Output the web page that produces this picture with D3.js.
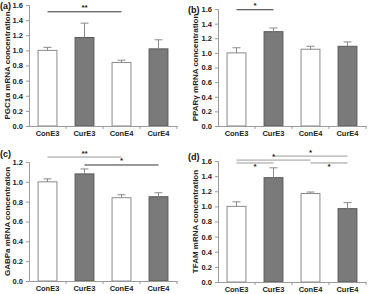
<!DOCTYPE html>
<html>
<head>
<meta charset="utf-8">
<script src="https://cdn.jsdelivr.net/npm/d3@7"></script>
<style>
  body { margin: 0; background: #fff; }
  svg { display: block; font-family: "Liberation Sans", Arial, sans-serif; }
</style>
</head>
<body>
<svg id="chart" width="372" height="294"></svg>
<script>
// groups, same for every panel
const groups = ["ConE3", "CurE3", "ConE4", "CurE4"];
const treated = [false, true, false, true];

// panel (a) PGC1a
const pgcMean = [1.00, 1.17, 0.84, 1.02];
const pgcTop = [1.04, 1.36, 0.87, 1.14];
// panel (b) PPARy
const pparMean = [1.00, 1.29, 1.05, 1.09];
const pparTop = [1.07, 1.34, 1.09, 1.15];
// panel (c) GABPa
const gabpMean = [1.00, 1.08, 0.84, 0.85];
const gabpTop = [1.03, 1.13, 0.87, 0.89];
// panel (d) TFAM
const tfamMean = [1.00, 1.38, 1.17, 0.97];
const tfamTop = [1.06, 1.51, 1.19, 1.05];

// significance brackets: [from, to, level, label, label above/below, grey?]
const pgcSig = [[0, 2, 1.51, "**", "above", false]];
const pparSig = [[0, 1, 1.59, "*", "above", false]];
const gabpSig = [[0, 2, 1.25, "**", "above", true], [1, 3, 1.17, "*", "above", false]];
const tfamSig = [
  [1, 3, 1.665, "*", "above", true],
  [0, 2, 1.612, "*", "above", true],
  [0, 1, 1.574, "*", "below", true],
  [2, 3, 1.574, "*", "below", true]
];

const yTicks12 = [0, 0.2, 0.4, 0.6, 0.8, 1.0, 1.2];
const yTicks16 = [0, 0.2, 0.4, 0.6, 0.8, 1.0, 1.2, 1.4, 1.6];

const panels = [
  { tag: "(a)", title: "PGC1α mRNA concentration", mean: pgcMean, top: pgcTop, sig: pgcSig,
    ticks: yTicks16, yMax: 1.6, left: 29, right: 177, top0: 5, bottom: 126, tagX: 0, tagY: 9 },
  { tag: "(b)", title: "PPARγ mRNA concentration", mean: pparMean, top: pparTop, sig: pparSig,
    ticks: yTicks16, yMax: 1.6, left: 218, right: 366, top0: 9, bottom: 126, tagX: 188, tagY: 13 },
  { tag: "(c)", title: "GABPa mRNA concentration", mean: gabpMean, top: gabpTop, sig: gabpSig,
    ticks: yTicks12, yMax: 1.2, left: 29, right: 177, top0: 162, bottom: 281, tagX: 0, tagY: 157 },
  { tag: "(d)", title: "TFAM mRNA concentration", mean: tfamMean, top: tfamTop, sig: tfamSig,
    ticks: yTicks16, yMax: 1.6, left: 218, right: 366, top0: 161, bottom: 282, tagX: 188, tagY: 160 }
];

const svg = d3.select("#chart");
const axisGrey = "#9a9a9a";

panels.forEach(p => {
  const g = svg.append("g");
  const x = d3.scaleBand().domain(groups).range([p.left, p.right]).paddingInner(0.49).paddingOuter(0.245);
  const y = d3.scaleLinear().domain([0, p.yMax]).range([p.bottom, p.top0]);
  const step = x.step();

  // bars
  g.selectAll("rect.bar")
    .data(groups)
    .join("rect")
    .attr("x", d => x(d))
    .attr("y", (d, i) => y(p.mean[i]))
    .attr("width", x.bandwidth())
    .attr("height", (d, i) => y(0) - y(p.mean[i]))
    .attr("fill", (d, i) => treated[i] ? "#7a7a7a" : "#fff")
    .attr("stroke", (d, i) => treated[i] ? "#5a5a5a" : "#8a8a8a")
    .attr("stroke-width", 1);

  // error bars (upper only)
  const eb = g.selectAll("g.err").data(groups).join("g").attr("stroke", "#8a8a8a").attr("stroke-width", 1);
  eb.append("line")
    .attr("x1", d => x(d) + x.bandwidth() / 2).attr("x2", d => x(d) + x.bandwidth() / 2)
    .attr("y1", (d, i) => y(p.mean[i])).attr("y2", (d, i) => y(p.top[i]));
  eb.append("line")
    .attr("x1", d => x(d) + x.bandwidth() / 2 - 4).attr("x2", d => x(d) + x.bandwidth() / 2 + 4)
    .attr("y1", (d, i) => y(p.top[i])).attr("y2", (d, i) => y(p.top[i]));

  // y axis
  const yAxis = g.append("g")
    .attr("transform", `translate(${p.left},0)`)
    .call(d3.axisLeft(y).tickValues(p.ticks).tickFormat(d3.format(".1f")).tickSizeOuter(0).tickSize(3).tickPadding(3));
  yAxis.select(".domain").attr("stroke", axisGrey);
  yAxis.selectAll(".tick line").attr("stroke", axisGrey);
  yAxis.selectAll(".tick text").attr("fill", "#222").style("font-size", "7.5px").style("font-weight", "bold");

  // x axis
  const xAxis = g.append("g")
    .attr("transform", `translate(0,${p.bottom})`)
    .call(d3.axisBottom(x).tickSize(0).tickPadding(5));
  xAxis.select(".domain").attr("stroke", axisGrey);
  xAxis.selectAll(".tick text").attr("fill", "#222").style("font-size", "7.5px").style("font-weight", "bold");
  xAxis.selectAll("line.sep")
    .data(d3.range(1, groups.length + 1))
    .join("line")
    .attr("class", "sep")
    .attr("x1", i => p.left + i * step).attr("x2", i => p.left + i * step)
    .attr("y1", 0).attr("y2", 3)
    .attr("stroke", axisGrey);

  // y title
  g.append("text")
    .attr("transform", `translate(${p.tagX + 10},${(p.top0 + p.bottom) / 2}) rotate(-90)`)
    .attr("text-anchor", "middle")
    .attr("fill", "#222")
    .style("font-size", "8px")
    .style("font-weight", "bold")
    .text(p.title);

  // panel tag
  g.append("text")
    .attr("x", p.tagX).attr("y", p.tagY)
    .attr("fill", "#111")
    .style("font-size", "9px")
    .style("font-weight", "bold")
    .text(p.tag);

  // significance
  const cx = i => x(groups[i]) + x.bandwidth() / 2;
  p.sig.forEach(s => {
    const [a, b, lvl, lab, pos, grey] = s;
    g.append("line")
      .attr("x1", cx(a)).attr("x2", cx(b))
      .attr("y1", y(lvl)).attr("y2", y(lvl))
      .attr("stroke", grey ? "#999" : "#333")
      .attr("stroke-width", 1);
    g.append("text")
      .attr("x", (cx(a) + cx(b)) / 2)
      .attr("y", pos === "above" ? y(lvl) - 1.5 : y(lvl) + 6.5)
      .attr("text-anchor", "middle")
      .attr("fill", "#222")
      .style("font-size", "8px")
      .style("font-weight", "bold")
      .text(lab);
  });
});
</script>
</body>
</html>
